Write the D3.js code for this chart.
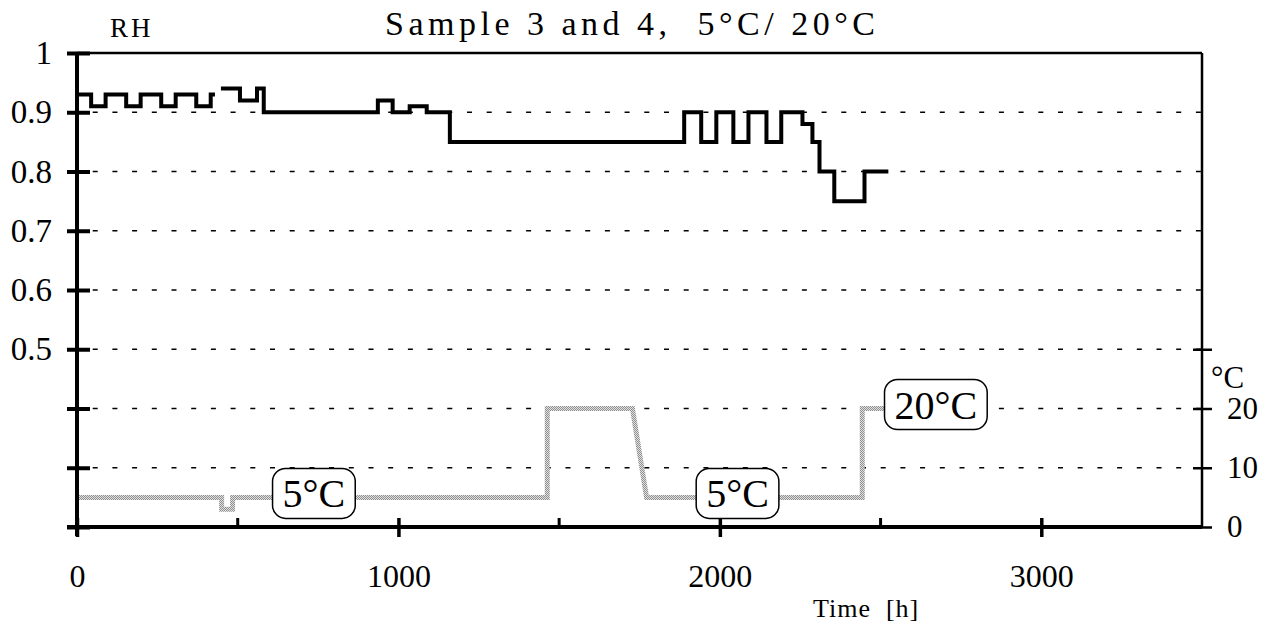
<!DOCTYPE html>
<html>
<head>
<meta charset="utf-8">
<script src="https://cdn.jsdelivr.net/npm/d3@7"></script>
<style>
  html, body { margin: 0; padding: 0; background: #fff; }
  svg { display: block; font-family: "Liberation Serif", "Times New Roman", serif; }
</style>
</head>
<body>
<svg id="chart" width="1270" height="630"></svg>
<script>
// ---------- data ----------
const titleText = "Sample 3 and 4,  5°C/ 20°C";
const xTicks = [0, 1000, 2000, 3000];
const xMinorTicks = [500, 1500, 2500];
const rhTicks = [1, 0.9, 0.8, 0.7, 0.6, 0.5, 0.4, 0.3, 0.2];
const rhLabelled = [1, 0.9, 0.8, 0.7, 0.6, 0.5];
const tTicks = [0, 10, 20, 30];
const tLabelled = [0, 10, 20];
const gridRH = [0.9, 0.8, 0.7, 0.6, 0.5];
const gridT = [20, 10];

// RH step series (step-after); null separates the two pieces
const rhTime  = [0, 44, 89, 153, 198, 262, 307, 371, 416, 423,
                 null,
                 454, 507, 560, 581, 936, 982, 1035, 1088, 1160, 1889, 1942, 1989, 2042, 2089, 2145, 2191, 2257, 2288, 2310, 2356, 2450, 2518];
const rhValue = [0.93, 0.91, 0.93, 0.91, 0.93, 0.91, 0.93, 0.91, 0.93, 0.93,
                 null,
                 0.94, 0.92, 0.94, 0.90, 0.92, 0.90, 0.91, 0.90, 0.85, 0.90, 0.85, 0.90, 0.85, 0.90, 0.85, 0.90, 0.88, 0.85, 0.80, 0.75, 0.80, 0.80];

// temperature series (polyline)
const tTime  = [0, 450, 450, 484, 484, 1463, 1463, 1728, 1772, 2443, 2443, 2520];
const tValue = [5, 5, 3, 3, 5, 5, 20, 20, 5, 5, 20, 20];

// labels on the temperature curve
const tagText = ["5°C", "5°C", "20°C"];
const tagTime = [737, 2055, 2672];
const tagTemp = [5, 5, 20];

// ---------- layout ----------
const L = 77, R = 1202, T = 53, B = 527;
const svg = d3.select("#chart");

const x = d3.scaleLinear().domain([0, 3500]).range([L, R]);
const yRH = d3.scaleLinear().domain([0.2, 1]).range([B, T]);
const yT = d3.scaleLinear().domain([0, 80]).range([B, T]);

// stipple pattern for grey temperature line
const defs = svg.append("defs");
const pat = defs.append("pattern").attr("id", "stip").attr("patternUnits", "userSpaceOnUse")
  .attr("width", 2).attr("height", 2);
pat.append("rect").attr("width", 2).attr("height", 2).attr("fill", "#e0e0e0");
pat.append("rect").attr("width", 1).attr("height", 1).attr("fill", "#909090");
pat.append("rect").attr("x", 1).attr("y", 1).attr("width", 1).attr("height", 1).attr("fill", "#909090");

// gridlines
const gridG = svg.append("g");
const gridLevels = gridRH.map(v => yRH(v)).concat(gridT.map(v => yT(v)));
gridLevels.forEach(yy => {
  gridG.append("line").attr("x1", L).attr("x2", R).attr("y1", yy).attr("y2", yy)
    .attr("stroke", "#000").attr("stroke-width", 1.6)
    .attr("stroke-dasharray", "5,14.7").attr("stroke-dashoffset", 4);
});

// top border
svg.append("line").attr("x1", L).attr("x2", R).attr("y1", T).attr("y2", T)
  .attr("stroke", "#000").attr("stroke-width", 2.5);

// temperature line
const tData = tTime.map((t, i) => ({ t, v: tValue[i] }));
svg.append("path").datum(tData)
  .attr("fill", "none").attr("stroke", "url(#stip)").attr("stroke-width", 5)
  .attr("d", d3.line().x(d => x(d.t)).y(d => yT(d.v)));

// RH line
const rhData = rhTime.map((t, i) => ({ t, v: rhValue[i] }));
svg.append("path").datum(rhData)
  .attr("fill", "none").attr("stroke", "#000").attr("stroke-width", 4)
  .attr("stroke-linejoin", "miter").attr("stroke-linecap", "square")
  .attr("d", d3.line().defined(d => d.t !== null && d.v !== null)
    .x(d => x(d.t)).y(d => yRH(d.v)).curve(d3.curveStepAfter));

// ---------- axes ----------
const styleText = (sel, size) => sel.attr("font-size", size).attr("font-family", "Liberation Serif")
  .attr("fill", "#000");

// left axis
const gL = svg.append("g").attr("transform", `translate(${L},0)`)
  .call(d3.axisLeft(yRH).tickValues(rhTicks).tickSize(10).tickPadding(15)
    .tickFormat(d => rhLabelled.includes(d) ? d3.format("")(d) : ""));
gL.select(".domain").remove();
gL.selectAll(".tick line").attr("x1", -10).attr("x2", 13).attr("stroke", "#000").attr("stroke-width", 4);
styleText(gL.selectAll(".tick text"), "33px");
svg.append("line").attr("x1", L).attr("x2", L).attr("y1", T).attr("y2", B + 9)
  .attr("stroke", "#000").attr("stroke-width", 4);

// bottom axis
const gB = svg.append("g").attr("transform", `translate(0,${B})`)
  .call(d3.axisBottom(x).tickValues(xTicks).tickSize(10).tickPadding(27).tickFormat(d3.format("")));
gB.select(".domain").remove();
gB.selectAll(".tick line").attr("y1", -9).attr("y2", 10).attr("stroke", "#000").attr("stroke-width", 3.5);
styleText(gB.selectAll(".tick text"), "32px");
xMinorTicks.forEach(v => {
  svg.append("line").attr("x1", x(v)).attr("x2", x(v)).attr("y1", B - 9).attr("y2", B)
    .attr("stroke", "#000").attr("stroke-width", 3);
});
svg.append("line").attr("x1", L - 10).attr("x2", R).attr("y1", B).attr("y2", B)
  .attr("stroke", "#000").attr("stroke-width", 4);

// right axis
const gR = svg.append("g").attr("transform", `translate(${R},0)`)
  .call(d3.axisRight(yT).tickValues(tTicks).tickSize(10).tickPadding(15)
    .tickFormat(d => tLabelled.includes(d) ? d3.format("")(d) : ""));
gR.select(".domain").remove();
gR.selectAll(".tick line").attr("x1", -9).attr("x2", 10).attr("stroke", "#000").attr("stroke-width", 2.5);
styleText(gR.selectAll(".tick text"), "31px");
svg.append("line").attr("x1", R).attr("x2", R).attr("y1", T).attr("y2", B)
  .attr("stroke", "#000").attr("stroke-width", 2.5);

// ---------- texts ----------
svg.append("text").attr("x", 385).attr("y", 35).attr("font-size", "34px")
  .attr("textLength", 490).attr("lengthAdjust", "spacing")
  .attr("xml:space", "preserve").text(titleText);
svg.append("text").attr("x", 110).attr("y", 37).attr("font-size", "27px")
  .attr("letter-spacing", "3px").text("RH");
svg.append("text").attr("x", 1211).attr("y", 388).attr("font-size", "31px").text("°C");
svg.append("text").attr("x", 813).attr("y", 617).attr("font-size", "26px")
  .attr("letter-spacing", "1px").attr("xml:space", "preserve").text("Time  [h]");

// ---------- tags ----------
tagText.forEach((s, i) => {
  const g = svg.append("g").attr("transform", `translate(${x(tagTime[i])},${yT(tagTemp[i]) - 4})`);
  const rect = g.append("rect").attr("fill", "#fff").attr("stroke", "#000").attr("stroke-width", 1.5)
    .attr("rx", 13).attr("ry", 13);
  const txt = g.append("text").attr("text-anchor", "middle").attr("y", 14)
    .attr("font-size", "40px").text(s);
  const bb = txt.node().getBBox();
  rect.attr("x", bb.x - 10).attr("y", -25).attr("width", bb.width + 20).attr("height", 50);
});
</script>
</body>
</html>
